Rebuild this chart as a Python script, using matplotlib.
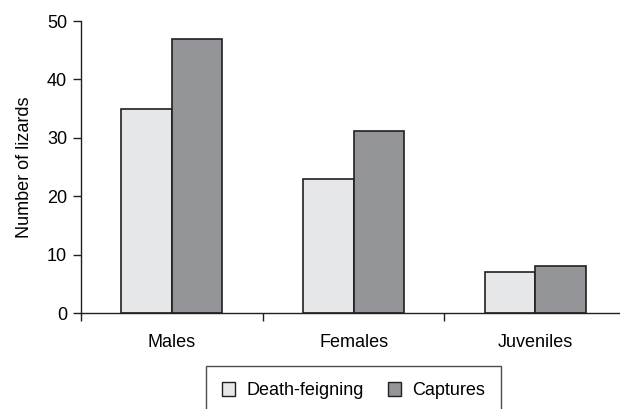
import numpy as np
import matplotlib.pyplot as plt
from matplotlib.patches import Patch

plt.rcParams['font.family'] = ['Liberation Sans', 'DejaVu Sans']

categories = ["Males", "Females", "Juveniles"]
death_feigning = [35, 23, 7]
captures = [47, 31.2, 8]

light = "#e6e7e8"
dark = "#939598"
edge = "#231f20"
fs = 13

fig = plt.figure(figsize=(6.2, 4.09), dpi=100)
ax = fig.add_axes([81 / 620, 1 - 313 / 409, 1 - 81 / 620 + 0.01, (313 - 21) / 409])

x = np.arange(len(categories))
w = 0.278
ax.bar(x - w / 2, death_feigning, w, color=light, edgecolor=edge, linewidth=1.2)
ax.bar(x + w / 2, captures, w, color=dark, edgecolor=edge, linewidth=1.2)

ax.set_xlim(-0.5, 2.5)
ax.set_ylim(0, 50)
ax.set_yticks(range(0, 51, 10))
ax.set_xticks([-0.5, 0.5, 1.5, 2.5])
ax.set_xticklabels([])
ax.set_xticks(x, minor=True)
ax.set_xticklabels(categories, minor=True)
ax.tick_params(axis='x', which='minor', length=0, pad=15, labelsize=fs)
ax.tick_params(axis='x', which='major', length=6, width=1, color=edge)
ax.tick_params(axis='y', length=6, width=1, color=edge, labelsize=fs, pad=4)

for s in ['top', 'right']:
    ax.spines[s].set_visible(False)
for s in ['left', 'bottom']:
    ax.spines[s].set_color(edge)
    ax.spines[s].set_linewidth(1)

ax.set_ylabel("Number of lizards", fontsize=fs, labelpad=10)

handles = [Patch(facecolor=light, edgecolor=edge, linewidth=1),
           Patch(facecolor=dark, edgecolor=edge, linewidth=1)]
leg = fig.legend(handles, ["Death-feigning", "Captures"], loc='upper center',
                 bbox_to_anchor=(353.5 / 620, 1 - 366 / 409), ncol=2,
                 fontsize=fs, frameon=True, fancybox=False, borderpad=0.9,
                 handlelength=0.75, handleheight=0.75, handletextpad=0.6,
                 columnspacing=1.35, borderaxespad=0)
leg.get_frame().set_edgecolor(edge)
leg.get_frame().set_linewidth(1)

fig.savefig("out.png", dpi=100)
